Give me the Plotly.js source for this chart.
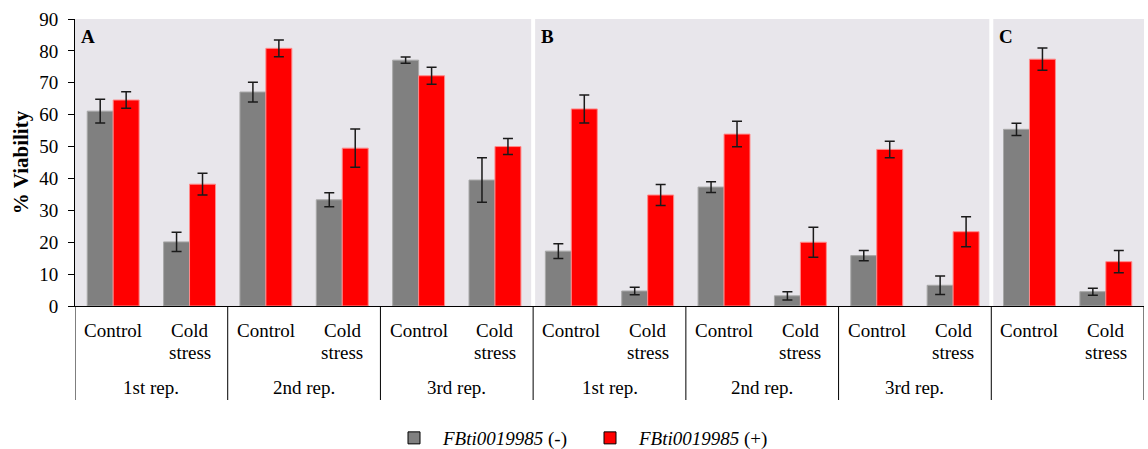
<!DOCTYPE html>
<html><head><meta charset="utf-8">
<script src="https://cdn.plot.ly/plotly-3.0.1.min.js"></script>
<style>html,body{margin:0;padding:0;background:#fff}#chart{width:1148px;height:449px}</style>
</head><body><div id="chart"></div>
<script>
const categories = ['Control','Cold<br>stress','Control','Cold<br>stress','Control','Cold<br>stress',
                    'Control','Cold<br>stress','Control','Cold<br>stress','Control','Cold<br>stress',
                    'Control','Cold<br>stress'];
const repLabels = ['1st rep.','2nd rep.','3rd rep.','1st rep.','2nd rep.','3rd rep.',''];
const panelLetters = ['A','B','C'];
const panelCategoryCounts = [6,6,2];
const minusValues = [61.1,20.1,67.1,33.3,77.1,39.5, 17.2,4.7,37.3,3.2,15.8,6.5, 55.4,4.5];
const minusErrors = [3.7,3.0,3.1,2.2,1.0,7.0, 2.3,1.2,1.7,1.3,1.6,2.9, 1.9,1.1];
const plusValues  = [64.6,38.2,80.8,49.5,72.2,50.0, 61.8,34.8,53.9,20.0,49.1,23.3, 77.4,13.9];
const plusErrors  = [2.6,3.4,2.6,6.0,2.7,2.5, 4.4,3.3,4.0,4.7,2.6,4.7, 3.5,3.5];
const seriesNames = ['<i>FBti0019985</i> (-)','<i>FBti0019985</i> (+)'];

const FONT = '"Liberation Serif", "Times New Roman", serif';
const xs = categories.map((_, i) => i);
const errStyle = {type:'data', visible:true, color:'#1a1a1a', thickness:1.5, width:5};

const traces = [
  {type:'bar', x:xs, y:minusValues, name:seriesNames[0], showlegend:false,
   marker:{color:'#808080', line:{color:'#a8a8a8', width:1}},
   error_y:Object.assign({array:minusErrors}, errStyle)},
  {type:'bar', x:xs, y:plusValues, name:seriesNames[1], showlegend:false,
   marker:{color:'#ff0000', line:{color:'#ff8a8a', width:1}},
   error_y:Object.assign({array:plusErrors}, errStyle)},
  {type:'bar', x:[null], y:[null], xaxis:'x2', yaxis:'y2', name:seriesNames[0], showlegend:true, hoverinfo:'skip',
   marker:{color:'#808080', line:{color:'#000', width:1}}},
  {type:'bar', x:[null], y:[null], xaxis:'x2', yaxis:'y2', name:seriesNames[1], showlegend:true, hoverinfo:'skip',
   marker:{color:'#ff0000', line:{color:'#000', width:1}}}
];

const shapes = [];
const annotations = [];
const gapHalf = 0.026;
let start = 0;
panelCategoryCounts.forEach((n, p) => {
  const x0 = start - 0.5 + (p > 0 ? gapHalf : 0);
  const x1 = start + n - 0.5 - (p < panelCategoryCounts.length - 1 ? gapHalf : 0);
  shapes.push({type:'rect', layer:'below', xref:'x', yref:'paper', x0:x0, x1:x1, y0:0, y1:1,
               fillcolor:'#e8e6eb', line:{width:0}});
  annotations.push({xref:'x', yref:'paper', x:x0, y:1, xanchor:'left', yanchor:'middle',
                    xshift:4, yshift:-17, showarrow:false, text:'<b>'+panelLetters[p]+'</b>',
                    font:{family:FONT, size:19, color:'#000'}});
  start += n;
});
const dividerBottom = -(400-306)/287;
for (let g = 0; g <= categories.length/2; g++) {
  shapes.push({type:'line', xref:'x', yref:'paper', x0:2*g-0.5, x1:2*g-0.5, y0:0, y1:dividerBottom,
               line:{color:'#000', width:1}});
}
categories.forEach((c, i) => {
  c.split('<br>').forEach((line, k) => {
    annotations.push({xref:'x', yref:'paper', x:i, y:0, yanchor:'middle', yshift:-24 - 22*k, showarrow:false,
                      text:line, font:{family:FONT, size:19, color:'#000'}});
  });
});
repLabels.forEach((r, g) => {
  if (!r) return;
  annotations.push({xref:'x', yref:'paper', x:2*g+0.5, y:0, yanchor:'middle', yshift:-81, showarrow:false,
                    text:r, font:{family:FONT, size:19, color:'#000'}});
});

const layout = {
  width:1148, height:449,
  margin:{l:75, r:4, t:19, b:143, autoexpand:false},
  paper_bgcolor:'#fff', plot_bgcolor:'rgba(0,0,0,0)',
  barmode:'group', bargap:0.32, bargroupgap:0,
  font:{family:FONT, size:19, color:'#000'},
  xaxis:{range:[-0.5,13.5], showticklabels:false, ticks:'', showgrid:false, zeroline:false,
         showline:true, linecolor:'#000', linewidth:1, fixedrange:true},
  yaxis:{range:[0,90], dtick:10, ticks:'outside', ticklen:6, tickcolor:'#000', tickwidth:1,
         showline:true, linecolor:'#000', linewidth:1, showgrid:false, zeroline:false,
         ticklabelstandoff:6,
         tickfont:{family:FONT, size:19, color:'#000'},
         title:{text:'<b>% Viability</b>', standoff:4, font:{family:FONT, size:21, color:'#000'}}},
  xaxis2:{overlaying:'x', visible:false, range:[0,1]},
  yaxis2:{overlaying:'y', visible:false, range:[0,1]},
  legend:{orientation:'h', x:0.29, xanchor:'left', y:-0.46, yanchor:'middle',
          itemwidth:48, entrywidth:133, entrywidthmode:'pixels',
          font:{family:FONT, size:19, color:'#000'}, bgcolor:'rgba(0,0,0,0)'},
  shapes:shapes, annotations:annotations
};
Plotly.newPlot('chart', traces, layout, {displayModeBar:false, staticPlot:true});
</script></body></html>
